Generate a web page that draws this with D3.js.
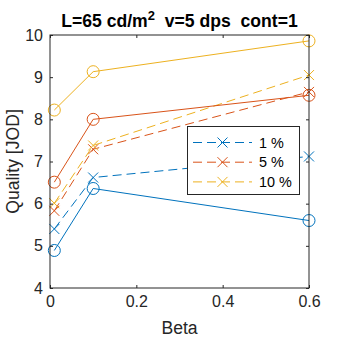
<!DOCTYPE html>
<html>
<head>
<meta charset="utf-8">
<script src="https://cdn.jsdelivr.net/npm/d3@7"></script>
<style>
  body { margin: 0; background: #fff; }
  svg { display: block; font-family: "Liberation Sans", Arial, sans-serif; }
</style>
</head>
<body>
<div id="chart"></div>
<script>
// Beta values (x) and quality in JOD per series
const betas = [0.01, 0.1, 0.6];
const dashed1 = [5.4, 6.62, 7.12];
const dashed5 = [5.83, 7.29, 8.65];
const dashed10 = [6.01, 7.38, 9.05];
const solid1 = [4.89, 6.36, 5.6];
const solid5 = [6.51, 8.0, 8.57];
const solid10 = [8.22, 9.13, 9.86];
const legendLabels = ['1 %', '5 %', '10 %'];
const xTicks = [0, 0.2, 0.4, 0.6];
const yTicks = [4, 5, 6, 7, 8, 9, 10];

const colors = ['#0072BD', '#D95319', '#EDB120'];
const axisColor = '#262626';

const width = 340, height = 340;
const margin = { top: 35, right: 31, bottom: 52, left: 50 };

const svg = d3.select('#chart').append('svg').attr('width', width).attr('height', height);

const x = d3.scaleLinear().domain([0, 0.6]).range([margin.left, width - margin.right]);
const y = d3.scaleLinear().domain([4, 10]).range([height - margin.bottom, margin.top]);

const series = [
  { vals: dashed1, color: colors[0], dash: true },
  { vals: dashed5, color: colors[1], dash: true },
  { vals: dashed10, color: colors[2], dash: true },
  { vals: solid1, color: colors[0], dash: false },
  { vals: solid5, color: colors[1], dash: false },
  { vals: solid10, color: colors[2], dash: false },
];

const line = d3.line().x((d) => x(d[0])).y((d) => y(d[1]));

// lines + markers
series.forEach((s) => {
  const pts = betas.map((b, i) => [b, s.vals[i]]);
  svg.append('path')
    .attr('d', line(pts))
    .attr('fill', 'none')
    .attr('stroke', s.color)
    .attr('stroke-width', 1)
    .attr('stroke-dasharray', s.dash ? '9,5' : null);
  const g = svg.append('g');
  pts.forEach((p) => {
    const cx = x(p[0]), cy = y(p[1]);
    if (s.dash) {
      const r = 5;
      g.append('path')
        .attr('d', `M${cx - r},${cy - r}L${cx + r},${cy + r}M${cx - r},${cy + r}L${cx + r},${cy - r}`)
        .attr('stroke', s.color).attr('stroke-width', 1).attr('fill', 'none');
    } else {
      g.append('circle').attr('cx', cx).attr('cy', cy).attr('r', 6)
        .attr('fill', 'none').attr('stroke', s.color).attr('stroke-width', 1);
    }
  });
});

// axes with inward ticks, mirrored on top/right
const tickLen = 3;
const x0 = margin.left, x1 = width - margin.right, y0 = height - margin.bottom, y1 = margin.top;

svg.append('g').attr('transform', `translate(0,${y0})`)
  .call(d3.axisBottom(x).tickValues(xTicks).tickSize(-tickLen).tickPadding(8).tickFormat(d3.format('')))
  .call((g) => g.select('.domain').remove())
  .call((g) => g.selectAll('line').attr('stroke', axisColor))
  .selectAll('text').attr('fill', axisColor).style('font-size', '16px');

svg.append('g').attr('transform', `translate(0,${y1})`)
  .call(d3.axisTop(x).tickValues(xTicks).tickSize(-tickLen).tickFormat(''))
  .call((g) => g.select('.domain').remove())
  .selectAll('line').attr('stroke', axisColor);

svg.append('g').attr('transform', `translate(${x0},0)`)
  .call(d3.axisLeft(y).tickValues(yTicks).tickSize(-tickLen).tickPadding(7).tickFormat(d3.format('d')))
  .call((g) => g.select('.domain').remove())
  .call((g) => g.selectAll('line').attr('stroke', axisColor))
  .selectAll('text').attr('fill', axisColor).style('font-size', '16px');

svg.append('g').attr('transform', `translate(${x1},0)`)
  .call(d3.axisRight(y).tickValues(yTicks).tickSize(-tickLen).tickFormat(''))
  .call((g) => g.select('.domain').remove())
  .selectAll('line').attr('stroke', axisColor);

svg.append('rect')
  .attr('x', x0).attr('y', y1).attr('width', x1 - x0).attr('height', y0 - y1)
  .attr('fill', 'none').attr('stroke', axisColor).attr('stroke-width', 1);

// axis labels
svg.append('text')
  .attr('x', (x0 + x1) / 2).attr('y', 334)
  .attr('text-anchor', 'middle').attr('fill', axisColor).style('font-size', '17.6px')
  .text('Beta');

svg.append('text')
  .attr('transform', `translate(19,${(y0 + y1) / 2}) rotate(-90)`)
  .attr('text-anchor', 'middle').attr('fill', axisColor).style('font-size', '17.6px')
  .text('Quality [JOD]');

// title
const title = svg.append('text')
  .attr('x', (x0 + x1) / 2).attr('y', 27)
  .attr('text-anchor', 'middle').attr('fill', '#000')
  .style('font-size', '17.6px').style('font-weight', 'bold');
title.append('tspan').text('L=65 cd/m');
title.append('tspan').attr('dy', -7).style('font-size', '13px').text('2');
title.append('tspan').attr('dy', 7).text('\u00a0\u00a0v=5 dps\u00a0\u00a0cont=1');

// legend
const lg = svg.append('g');
lg.append('rect').attr('x', 187.5).attr('y', 126.5).attr('width', 112).attr('height', 68)
  .attr('fill', '#fff').attr('stroke', axisColor).attr('stroke-width', 1);
legendLabels.forEach((lab, i) => {
  const ly = 142.5 + i * 19.7;
  lg.append('line').attr('x1', 193).attr('x2', 252).attr('y1', ly).attr('y2', ly)
    .attr('stroke', colors[i]).attr('stroke-width', 1).attr('stroke-dasharray', '9,5');
  const cx = 222.5, r = 5;
  lg.append('path')
    .attr('d', `M${cx - r},${ly - r}L${cx + r},${ly + r}M${cx - r},${ly + r}L${cx + r},${ly - r}`)
    .attr('stroke', colors[i]).attr('stroke-width', 1);
  lg.append('text').attr('x', 259).attr('y', ly).attr('dy', '0.35em')
    .attr('fill', '#000').style('font-size', '14.4px').text(lab);
});
</script>
</body>
</html>
